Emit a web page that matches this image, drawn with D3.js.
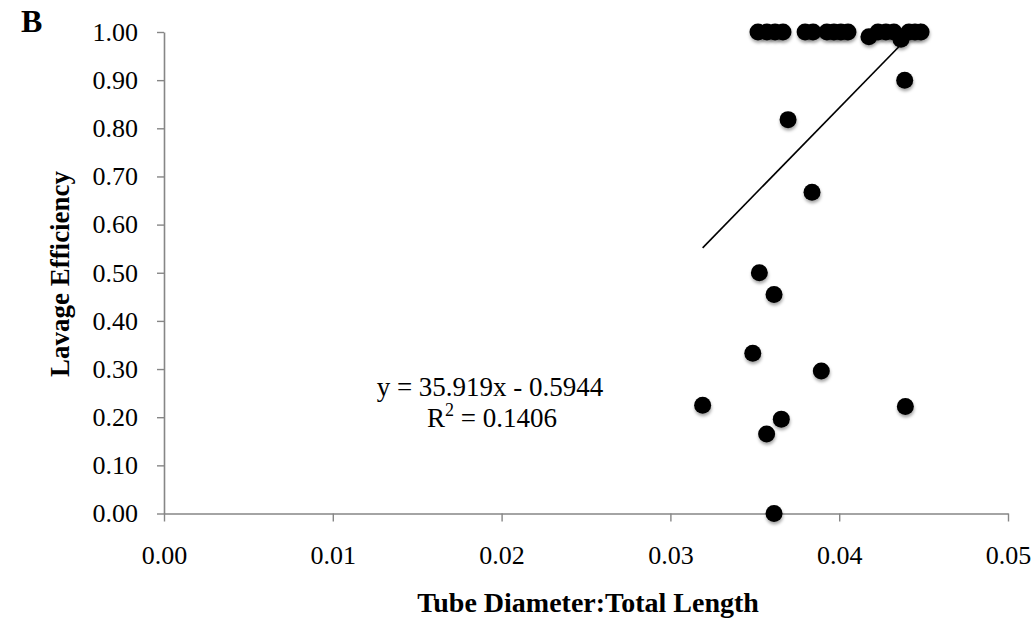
<!DOCTYPE html>
<html>
<head>
<meta charset="utf-8">
<script src="https://cdn.jsdelivr.net/npm/d3@7"></script>
<style>
  html, body { margin: 0; padding: 0; background: #fff; }
  svg { display: block; }
</style>
</head>
<body>
<svg id="chart" width="1034" height="624"></svg>
<script>
// ---- data ----
const xValues = [
  0.03519, 0.03572, 0.03620, 0.03667,
  0.03798, 0.03845, 0.03927, 0.03969, 0.04010, 0.04052,
  0.04176, 0.04230, 0.04277, 0.04324, 0.04366, 0.04413, 0.04449, 0.04485,
  0.04388, 0.03697, 0.03839,
  0.03527, 0.03614, 0.03488, 0.03894, 0.03191, 0.03657, 0.03570, 0.04392, 0.03614
];
const yValues = [
  1.00, 1.00, 1.00, 1.00,
  1.00, 1.00, 1.00, 1.00, 1.00, 1.00,
  0.99, 1.00, 1.00, 1.00, 0.985, 1.00, 1.00, 1.00,
  0.90, 0.818, 0.667,
  0.50, 0.455, 0.333, 0.296, 0.225, 0.196, 0.165, 0.222, 0.00
];
const xTicks = [0, 0.01, 0.02, 0.03, 0.04, 0.05];
const yTicks = [0, 0.1, 0.2, 0.3, 0.4, 0.5, 0.6, 0.7, 0.8, 0.9, 1.0];
const trendSlope = 35.919;
const trendIntercept = -0.5944;
const equationLines = ["y = 35.919x - 0.5944", "R2 = 0.1406"];
const xTitle = "Tube Diameter:Total Length";
const yTitle = "Lavage Efficiency";
const panelLabel = "B";

// ---- layout ----
const svg = d3.select("#chart");
const font = "'Liberation Serif', 'DejaVu Serif', serif";
const axisColor = "#868686";

const x = d3.scaleLinear().domain([0, 0.05]).range([164, 1008]);
const y = d3.scaleLinear().domain([0, 1]).range([513.5, 32]);

const defs = svg.append("defs");
const f = defs.append("filter").attr("id", "shadow")
  .attr("x", "-50%").attr("y", "-50%").attr("width", "200%").attr("height", "200%");
f.append("feDropShadow").attr("dx", 0.5).attr("dy", 2.5)
  .attr("stdDeviation", 1.8).attr("flood-color", "#000").attr("flood-opacity", 0.35);

// y axis
const yAxis = svg.append("g")
  .attr("transform", `translate(${x(0)},0)`)
  .call(d3.axisLeft(y).tickValues(yTicks).tickFormat(d3.format(".2f"))
    .tickSize(7).tickSizeOuter(0).tickPadding(19));
// x axis
const xAxis = svg.append("g")
  .attr("transform", `translate(0,${y(0)})`)
  .call(d3.axisBottom(x).tickValues(xTicks).tickFormat(d3.format(".2f"))
    .tickSize(8).tickSizeOuter(0).tickPadding(24));

[yAxis, xAxis].forEach(g => {
  g.attr("font-size", null).attr("font-family", null);
  g.select(".domain").attr("stroke", axisColor).attr("stroke-width", 1.6);
  g.selectAll(".tick line").attr("stroke", axisColor).attr("stroke-width", 1.4);
  g.selectAll(".tick text").attr("fill", "#000")
    .style("font-family", font).style("font-size", "26px");
});

// trend line (over data x range)
const xMin = d3.min(xValues), xMax = d3.max(xValues);
svg.append("line")
  .attr("x1", x(xMin)).attr("y1", y(trendSlope * xMin + trendIntercept))
  .attr("x2", x(xMax)).attr("y2", y(trendSlope * xMax + trendIntercept))
  .attr("stroke", "#000").attr("stroke-width", 1.6);

// points
svg.append("g").selectAll("circle")
  .data(xValues.map((v, i) => [v, yValues[i]]))
  .join("circle")
  .attr("cx", d => x(d[0])).attr("cy", d => y(d[1]))
  .attr("r", 8.5).attr("fill", "#000")
  .attr("filter", "url(#shadow)");

// equation
const eq = svg.append("g").style("font-family", font).style("font-size", "27px");
eq.append("text").attr("x", 490).attr("y", 396).attr("text-anchor", "middle")
  .text(equationLines[0]);
const r2 = eq.append("text").attr("x", 492).attr("y", 427).attr("text-anchor", "middle");
r2.append("tspan").text("R");
r2.append("tspan").attr("dy", -11).style("font-size", "18px").text("2");
r2.append("tspan").attr("dy", 11).text(" = 0.1406");

// axis titles
svg.append("text").attr("x", 588).attr("y", 612).attr("text-anchor", "middle")
  .style("font-family", font).style("font-size", "28px").style("font-weight", "bold")
  .text(xTitle);
svg.append("text")
  .attr("transform", "translate(69,274) rotate(-90)")
  .attr("text-anchor", "middle")
  .style("font-family", font).style("font-size", "27px").style("font-weight", "bold")
  .text(yTitle);

// panel label
svg.append("text").attr("x", 21).attr("y", 32)
  .style("font-family", font).style("font-size", "32px").style("font-weight", "bold")
  .text(panelLabel);
</script>
</body>
</html>
